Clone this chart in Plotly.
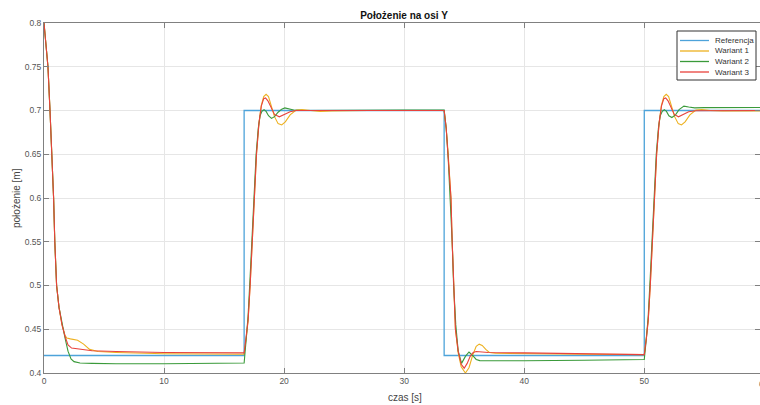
import plotly.graph_objects as go

# ---------------- data ----------------
ref_t = [0, 16.67, 33.33, 50, 60]
ref_y = [0.42, 0.70, 0.42, 0.70, 0.70]

w1_t = [0, 0.15, 0.33, 0.5, 0.67, 0.8, 0.9, 1.05, 1.25, 1.5, 1.75, 1.9, 2.2, 2.8, 3.3, 3.8, 4.5, 6, 10, 16.67,
        16.85, 17.0, 17.17, 17.33, 17.5, 17.7, 17.9, 18.1, 18.3, 18.5, 18.7, 18.95, 19.2, 19.5, 19.8, 20.1, 20.5,
        21.0, 21.5, 22.2, 23, 24, 27, 33.33,
        33.5, 33.67, 33.9, 34.0, 34.12, 34.27, 34.5, 34.75, 35.1, 35.4, 35.7, 36.0, 36.25, 36.5, 36.8, 37.1, 37.6,
        40, 45, 50,
        50.18, 50.33, 50.5, 50.67, 50.83, 51.03, 51.23, 51.43, 51.63, 51.83, 52.03, 52.28, 52.53, 52.83, 53.1, 53.4,
        53.8, 54.3, 54.8, 55.5, 56.5, 60]
w1_y = [0.80, 0.78, 0.75, 0.70, 0.65, 0.60, 0.55, 0.50, 0.475, 0.455, 0.443, 0.44, 0.439, 0.4375, 0.433, 0.427, 0.4245, 0.4235, 0.422, 0.4215,
        0.44, 0.46, 0.50, 0.55, 0.60, 0.65, 0.685, 0.706, 0.716, 0.7185, 0.716, 0.705, 0.693, 0.685, 0.6835, 0.687, 0.695,
        0.7005, 0.7012, 0.700, 0.699, 0.6995, 0.700, 0.700,
        0.68, 0.65, 0.60, 0.55, 0.50, 0.45, 0.423, 0.407, 0.400, 0.406, 0.420, 0.4305, 0.433, 0.4315, 0.427, 0.4235, 0.4225,
        0.422, 0.4215, 0.421,
        0.44, 0.46, 0.50, 0.55, 0.60, 0.65, 0.685, 0.706, 0.716, 0.7185, 0.716, 0.705, 0.693, 0.685, 0.6835, 0.687,
        0.695, 0.7005, 0.7012, 0.700, 0.6995, 0.6995]

w2_t = [0, 0.15, 0.33, 0.5, 0.67, 0.8, 0.9, 1.05, 1.25, 1.5, 1.75, 2.0, 2.25, 2.5, 3.0, 4.0, 6, 10, 14, 16.67,
        16.85, 17.0, 17.17, 17.33, 17.5, 17.67, 17.85, 18.0, 18.15, 18.33, 18.5, 18.7, 18.95, 19.2, 19.5, 19.8, 20.06,
        20.4, 20.8, 21.5, 25, 30, 33.33,
        33.5, 33.67, 33.85, 34.0, 34.12, 34.3, 34.5, 34.78, 35.1, 35.4, 35.7, 36.0, 36.3, 37, 40, 45, 50,
        50.18, 50.33, 50.5, 50.67, 50.83, 51.0, 51.18, 51.33, 51.5, 51.67, 51.85, 52.05, 52.3, 52.6, 52.9, 53.3,
        53.7, 54.2, 55, 60]
w2_y = [0.80, 0.78, 0.75, 0.70, 0.65, 0.60, 0.55, 0.50, 0.475, 0.455, 0.44, 0.425, 0.416, 0.413, 0.4115, 0.411, 0.4105, 0.4105, 0.411, 0.4115,
        0.44, 0.465, 0.51, 0.56, 0.61, 0.65, 0.68, 0.694, 0.699, 0.701, 0.699, 0.694, 0.691, 0.693, 0.698, 0.7015, 0.703,
        0.702, 0.7005, 0.700, 0.7005, 0.7005, 0.7005,
        0.68, 0.645, 0.60, 0.55, 0.50, 0.455, 0.425, 0.411, 0.419, 0.424, 0.420, 0.4155, 0.4142, 0.414, 0.414, 0.4145, 0.4155,
        0.44, 0.465, 0.51, 0.56, 0.61, 0.65, 0.68, 0.694, 0.699, 0.701, 0.699, 0.694, 0.692, 0.695, 0.701, 0.705,
        0.704, 0.703, 0.7033, 0.7035]

w3_t = [0, 0.15, 0.33, 0.5, 0.67, 0.8, 0.9, 1.05, 1.25, 1.5, 1.75, 2.0, 2.3, 3.0, 4.0, 6, 10, 16.67,
        16.85, 17.0, 17.17, 17.33, 17.5, 17.7, 17.9, 18.1, 18.3, 18.45, 18.65, 18.9, 19.2, 19.6, 20.0, 20.5, 21, 22, 33.33,
        33.5, 33.67, 33.9, 34.0, 34.12, 34.27, 34.5, 34.75, 35.0, 35.25, 35.5, 35.75, 36.0, 36.5, 37, 40, 45, 50,
        50.18, 50.33, 50.5, 50.67, 50.83, 51.03, 51.23, 51.43, 51.63, 51.78, 51.98, 52.23, 52.5, 52.85, 53.2, 53.7,
        54.3, 60]
w3_y = [0.80, 0.78, 0.75, 0.70, 0.65, 0.60, 0.55, 0.50, 0.475, 0.455, 0.442, 0.432, 0.4285, 0.4275, 0.4255, 0.4245, 0.4235, 0.423,
        0.44, 0.46, 0.50, 0.55, 0.60, 0.65, 0.685, 0.705, 0.7135, 0.7143, 0.711, 0.703, 0.6955, 0.6928, 0.695, 0.6985, 0.700, 0.700, 0.700,
        0.68, 0.65, 0.60, 0.55, 0.50, 0.45, 0.425, 0.410, 0.4055, 0.411, 0.419, 0.4235, 0.4245, 0.424, 0.4235, 0.423, 0.422, 0.421,
        0.44, 0.46, 0.50, 0.55, 0.60, 0.65, 0.685, 0.705, 0.7135, 0.7143, 0.711, 0.703, 0.6955, 0.6928, 0.695, 0.6985,
        0.6998, 0.700]

y_ticks = [0.4, 0.45, 0.5, 0.55, 0.6, 0.65, 0.7, 0.75, 0.8]
y_labels = ["0.4", "0.45", "0.5", "0.55", "0.6", "0.65", "0.7", "0.75", "0.8"]
x_ticks = [0, 10, 20, 30, 40, 50, 60]
x_labels = ["0", "10", "20", "30", "40", "50", "60"]

names = ["Referencja", "Wariant 1", "Wariant 2", "Wariant 3"]
colors = ["#4DA3DA", "#EDB120", "#3A9A3A", "#E8423C"]

FONT = "Liberation Sans, Arial, Helvetica, sans-serif"

# plot-area geometry (pixels)
W, H = 760, 405
L, T, B = 44, 23, 32
PW, PH = W - L, H - T - B


def px_x(p):
    return (p - L) / PW


def px_y(p):
    return 1 - (p - T) / PH


fig = go.Figure()
fig.add_trace(go.Scatter(x=ref_t, y=ref_y, mode="lines", name=names[0],
                         line=dict(color=colors[0], width=1.3, shape="hv")))
fig.add_trace(go.Scatter(x=w1_t, y=w1_y, mode="lines", name=names[1],
                         line=dict(color=colors[1], width=1.1)))
fig.add_trace(go.Scatter(x=w2_t, y=w2_y, mode="lines", name=names[2],
                         line=dict(color=colors[2], width=1.1)))
fig.add_trace(go.Scatter(x=w3_t, y=w3_y, mode="lines", name=names[3],
                         line=dict(color=colors[3], width=1.1)))

axis_common = dict(showgrid=True, gridcolor="#E6E6E6", gridwidth=1,
                   showline=True, linecolor="#808080", linewidth=1, mirror="allticks",
                   ticks="inside", ticklen=5, tickcolor="#808080",
                   tickfont=dict(family=FONT, size=8.5, color="#555555"),
                   zeroline=False, automargin=False)

fig.update_layout(
    width=W, height=H,
    margin=dict(l=L, r=0, t=T, b=B),
    paper_bgcolor="white", plot_bgcolor="white",
    font=dict(family=FONT, size=10, color="#444444"),
    title=dict(text="<b>Położenie na osi Y</b>", x=(404 / W), xref="container", xanchor="center",
               y=1 - 15 / H, yanchor="middle", font=dict(family=FONT, size=10, color="#111111")),
    xaxis=dict(range=[0, 59.64], tickvals=x_ticks, ticktext=x_labels, **axis_common),
    yaxis=dict(range=[0.4, 0.8], tickvals=y_ticks, ticktext=y_labels, **axis_common),
    showlegend=False,
)

# axis titles
fig.add_annotation(text="czas [s]", x=px_x(405), xref="paper", y=0, yref="paper",
                   yshift=-(397 - 373), yanchor="middle", xanchor="center", showarrow=False,
                   font=dict(family=FONT, size=10, color="#444444"))
fig.add_annotation(text="położenie [m]", x=px_x(16), xref="paper", y=0.5, yref="paper",
                   textangle=-90, xanchor="center", yanchor="middle", showarrow=False,
                   font=dict(family=FONT, size=10, color="#444444"))
# partially visible last x tick label (the axis runs slightly past the window edge)
fig.add_annotation(text="60", x=px_x(764), xref="paper", y=0, yref="paper",
                   yshift=-4, yanchor="top", xanchor="center", showarrow=False,
                   font=dict(family=FONT, size=8.5, color="#555555"))

# compact MATLAB-style legend box
leg_x0, leg_x1, leg_y0, leg_y1 = 677, 756, 31, 80
fig.add_shape(type="rect", xref="paper", yref="paper",
              x0=px_x(leg_x0), x1=px_x(leg_x1), y0=px_y(leg_y1), y1=px_y(leg_y0),
              fillcolor="white", line=dict(color="#333333", width=1), layer="above")
leg_rows = [40.5, 51, 61.5, 72]
for name, col, ry in zip(names, colors, leg_rows):
    fig.add_shape(type="line", xref="paper", yref="paper",
                  x0=px_x(680), x1=px_x(709), y0=px_y(ry), y1=px_y(ry),
                  line=dict(color=col, width=1.3), layer="above")
    fig.add_annotation(text=name, x=px_x(713), xref="paper", y=px_y(ry), yref="paper",
                       xanchor="left", yanchor="middle", showarrow=False,
                       font=dict(family=FONT, size=8, color="#333333"))

fig.write_html(
    "out.html",
    config={"displayModeBar": False},
    post_script="document.body.style.margin='0';document.body.style.overflow='hidden';",
)
